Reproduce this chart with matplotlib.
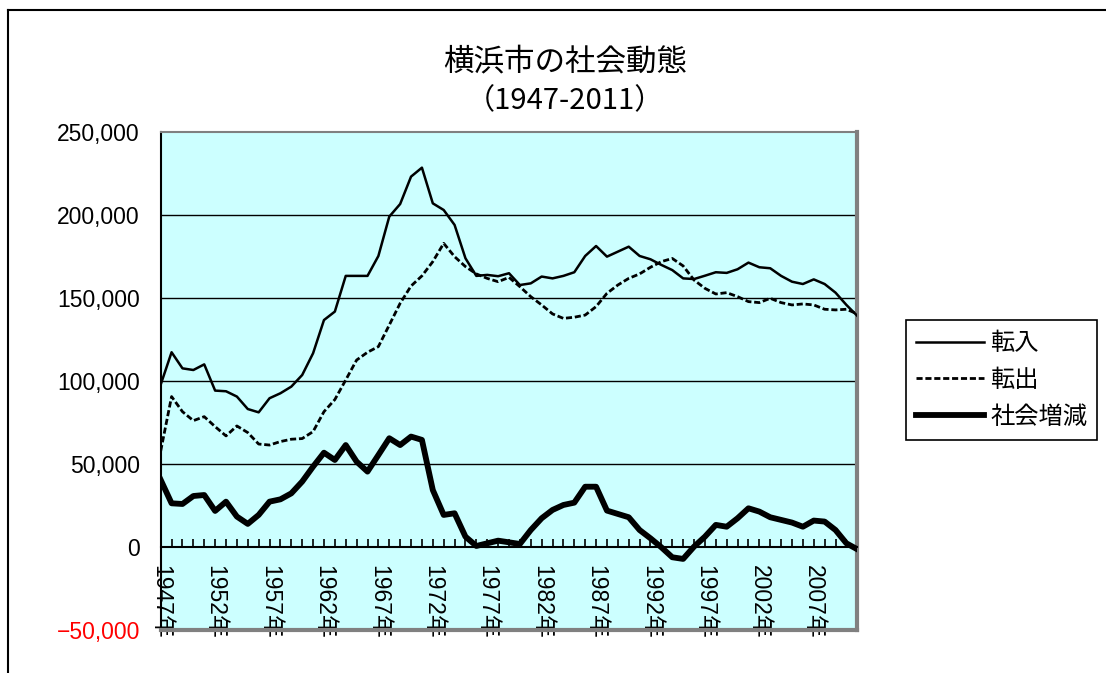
import numpy as np
import matplotlib
matplotlib.use('Agg')
import matplotlib.pyplot as plt
from matplotlib.lines import Line2D
from matplotlib.ticker import FuncFormatter

plt.rcParams['font.family'] = ['Liberation Sans', 'Noto Sans CJK JP', 'DejaVu Sans']

# 横浜市の社会動態 1947-2011
years = list(range(1947, 2012))
tennyu = [98000, 117500, 107800, 106800, 110200, 94400, 94000, 90800, 83300, 81300,
          89800, 92800, 96800, 103800, 116900, 136900, 142000, 163500, 163500, 163500,
          175500, 199200, 206800, 223300, 228700, 207200, 203200, 194200, 174100, 163500,
          164100, 163300, 165100, 158000, 159000, 163100, 162000, 163500, 165700, 175500,
          181500, 175100, 178100, 181100, 175500, 173500, 170100, 167000, 162000, 161600,
          163600, 165700, 165300, 167500, 171500, 168700, 168100, 163500, 160000, 158600,
          161400, 158600, 153400, 146000, 139400]
tenshutsu = [58000, 90800, 81700, 76300, 78700, 72700, 67100, 73100, 69100, 62200,
             61600, 63700, 65100, 65500, 69700, 81700, 89000, 100800, 112800, 117500,
             120900, 133900, 147000, 157400, 163500, 172100, 183100, 175100, 169100, 164700,
             162000, 160000, 162600, 157000, 151000, 146000, 140600, 137900, 138600, 139900,
             145000, 153000, 158000, 162000, 164700, 168700, 172100, 174000, 169500, 161000,
             156000, 152600, 153400, 151000, 148000, 147400, 150000, 147400, 146000, 146600,
             146000, 143400, 143000, 143400, 140600]
shakai = [40600, 26500, 26100, 30900, 31500, 21900, 27500, 18500, 14100, 19500,
          27500, 28900, 32500, 39600, 48600, 57000, 52600, 61600, 51600, 45600,
          55600, 65700, 61600, 66700, 64700, 34500, 19500, 20500, 6400, 800,
          2400, 4000, 3000, 2000, 10400, 17500, 22500, 25500, 26900, 36500,
          36500, 22100, 20100, 18100, 10400, 5400, 0, -6000, -7000, 400,
          6400, 13500, 12400, 17500, 23500, 21500, 18100, 16500, 14900, 12400,
          16100, 15500, 10400, 2400, -1200]
labels = ['転入', '転出', '社会増減']
yticks = [-50000, 0, 50000, 100000, 150000, 200000, 250000]

fig = plt.figure(figsize=(11.06, 6.73), dpi=100)
ax = fig.add_axes([160.7 / 1106, 1 - 630.3 / 673, 696.6 / 1106, 498 / 673])
ax.set_facecolor('#CCFFFF')

# outer chart frame (cut off on right and bottom)
fig.add_artist(Line2D([8 / 1106, 1.0], [1 - 10 / 673] * 2, color='black', lw=1.5,
                      transform=fig.transFigure))
fig.add_artist(Line2D([8 / 1106] * 2, [0.0, 1 - 10 / 673], color='black', lw=1.5,
                      transform=fig.transFigure))

for v in [50000, 100000, 150000, 200000]:
    ax.axhline(v, color='black', lw=1.0, zorder=1)

ax.plot(years, tennyu, color='black', lw=1.8, zorder=3, label=labels[0])
ax.plot(years, tenshutsu, color='black', lw=2.0, dashes=(2.2, 1.0), zorder=3,
        label=labels[1])
ax.plot(years, shakai, color='black', lw=4.2, zorder=4, label=labels[2])

ax.set_xlim(1947, 2011)
ax.set_ylim(-50000, 250000)

ax.spines['bottom'].set_position(('data', 0))
ax.spines['bottom'].set_color('black')
ax.spines['bottom'].set_linewidth(1.5)
ax.spines['left'].set_color('black')
ax.spines['left'].set_linewidth(1.5)
ax.spines['top'].set_color('#808080')
ax.spines['top'].set_linewidth(1.5)
ax.spines['right'].set_color('#808080')
ax.spines['right'].set_linewidth(3)
ax.plot([1947, 2011], [-50000, -50000], color='#808080', lw=3, clip_on=False, zorder=5)

ax.set_xticks(years)
ax.set_xticklabels([f'{y}年' if (y - 1947) % 5 == 0 else '' for y in years],
                   rotation=270, fontsize=16.5)
ax.tick_params(axis='x', direction='in', length=6, width=1.2, pad=13)
for t in ax.get_xticklabels():
    t.set_verticalalignment('top')
    t.set_horizontalalignment('center')

ax.set_yticks(yticks)
ax.yaxis.set_major_formatter(FuncFormatter(lambda v, p: f'{int(v):,}'.replace('-', '−')))
ax.tick_params(axis='y', length=0, pad=15, labelsize=16.5)
ax.get_yticklabels()[0].set_color('red')

fig.text(0.511, 1 - 62 / 673, '横浜市の社会動態', ha='center', va='center',
         fontsize=22, family=['Noto Sans CJK JP'])
fig.text(0.511, 1 - 101 / 673, '（1947-2011）', ha='center', va='center',
         fontsize=21, family=['Noto Sans CJK JP'])

leg = ax.legend(loc='center', bbox_to_anchor=(1001.5 / 1106, 1 - 380 / 673),
                bbox_transform=fig.transFigure, frameon=True, fancybox=False,
                framealpha=1, edgecolor='black', handlelength=2.8,
                handletextpad=0.25, labelspacing=0.45, borderpad=0.4,
                prop={'family': ['Noto Sans CJK JP'], 'size': 17.5})
leg.get_frame().set_linewidth(1.2)

fig.savefig('out.png', dpi=100)
